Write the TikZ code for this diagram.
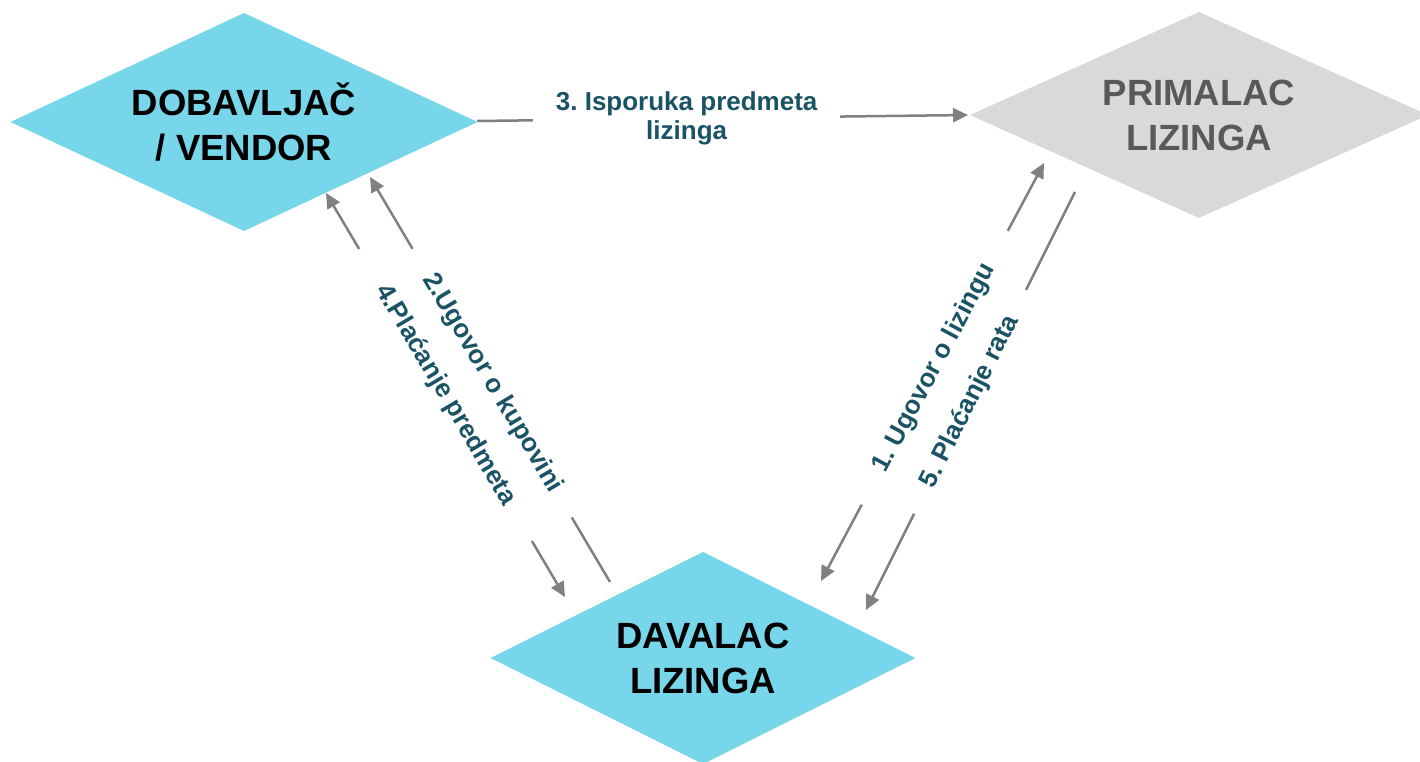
\documentclass[tikz,border=0pt]{standalone}
\usepackage{fontspec}
\setmainfont{Liberation Sans}
\usetikzlibrary{shapes.geometric,arrows.meta}
\definecolor{cyanbox}{HTML}{78D6EA}
\definecolor{greybox}{HTML}{D9D9D9}
\definecolor{greytext}{HTML}{595959}
\definecolor{labelteal}{HTML}{1A5366}
\definecolor{arrowgrey}{HTML}{808080}
\frenchspacing
\begin{document}
\begin{tikzpicture}[x=1pt,y=-1pt,
  party/.style={diamond, inner sep=0pt, outer sep=0pt, align=center,
    font=\fontsize{36.5}{45}\selectfont\bfseries},
  flow/.style={draw=arrowgrey, line width=2.5pt},
  headend/.style={-{Triangle[length=15pt,width=14pt]}},
  headboth/.style={{Triangle[length=15pt,width=14pt]}-{Triangle[length=15pt,width=14pt]}},
  flowlabel/.style={fill=white, text=labelteal, inner xsep=0pt, inner ysep=0pt,
    align=center, font=\fontsize{26}{29.5}\selectfont\bfseries}
]
\useasboundingbox (0,0) rectangle (1420,762);
\clip (0,0) rectangle (1420,762);

% parties
\node[party, fill=cyanbox, minimum width=467pt, minimum height=218pt, shape aspect=2.14]
  (dob) at (244,122) {DOBAVLJAČ\\/ VENDOR};
\node[party, fill=greybox, text=greytext, minimum width=458pt, minimum height=206pt, shape aspect=2.22]
  (prim) at (1199,115) {PRIMALAC\\LIZINGA};
\node[party, fill=cyanbox, minimum width=425pt, minimum height=212pt, shape aspect=2]
  (dav) at (703,658) {DAVALAC\\LIZINGA};

% connector end points
\coordinate (a1) at (326,193);  \coordinate (a2) at (565,597);
\coordinate (b1) at (370,177);  \coordinate (b2) at (610,582);
\coordinate (c1) at (1044,163); \coordinate (c2) at (821,581);
\coordinate (d1) at (1075,192); \coordinate (d2) at (866,610);
\coordinate (e1) at (477,121);  \coordinate (e2) at (968,115);

% 3. delivery
\draw[flow, headend] (e1) -- (e2)
  node[flowlabel, pos=0.427, minimum width=307pt] (l3) {3. Isporuka predmeta\\lizinga};

% 4. payment for the object
\draw[flow, headboth] (a2) -- (a1)
  node[flowlabel, sloped, pos=0.5, minimum width=339pt] (l4) {4.Plaćanje predmeta};

% 2. purchase contract
\draw[flow, headend] (b2) -- (b1)
  node[flowlabel, sloped, pos=0.491, minimum width=312pt] (l2) {2.Ugovor o kupovini};

% 1. leasing contract
\draw[flow, headboth] (c2) -- (c1)
  node[flowlabel, sloped, pos=0.51, minimum width=310pt] (l1) {1. Ugovor o lizingu};

% 5. instalments
\draw[flow, headend] (d1) -- (d2)
  node[flowlabel, sloped, pos=0.502, minimum width=250pt] (l5) {5. Plaćanje rata};
\end{tikzpicture}
\end{document}
